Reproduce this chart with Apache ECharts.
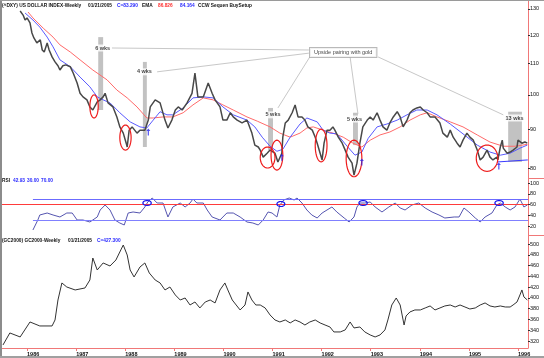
<!DOCTYPE html>
<html><head><meta charset="utf-8">
<script src="https://cdn.jsdelivr.net/npm/echarts@6/dist/echarts.min.js"></script>
<style>html,body{margin:0;padding:0;background:#fff}#c{width:544px;height:358px}</style>
</head><body><div id="c"></div><script>
const FONT = '"Liberation Sans",Arial,sans-serif';
const X_MIN = 1985.49, X_MAX = 1996.204;
const yearTicks = [1986,1987,1988,1989,1990,1991,1992,1993,1994,1995,1996];
const dxyTicks = [80,90,100,110,120,130];
const DXY_MIN = 77.6, DXY_MAX = 133.2;
const rsiTicks = [20,40,60,80,100];
const RSI_MIN = 3.3, RSI_MAX = 109.3;
const goldTicks = [320,340,360,380,400,420,440,460,480,500];
const GOLD_MIN = 307, GOLD_MAX = 516.7;

// US Dollar index weekly close (year, value)
const dxy = [[1985.86,129.2],[1985.92,127.6],[1985.96,125.7],[1986.00,126.5],[1986.06,124.6],[1986.10,120.8],[1986.14,119.0],[1986.20,117.2],[1986.27,118.3],[1986.31,114.7],[1986.35,114.0],[1986.41,117.2],[1986.45,114.7],[1986.51,112.3],[1986.57,110.6],[1986.63,109.3],[1986.67,107.9],[1986.73,109.3],[1986.79,109.6],[1986.88,109.0],[1986.94,106.9],[1987.02,103.7],[1987.08,100.5],[1987.14,99.4],[1987.22,98.5],[1987.28,96.4],[1987.34,95.5],[1987.43,97.9],[1987.49,98.5],[1987.55,99.4],[1987.59,100.5],[1987.65,97.6],[1987.75,96.4],[1987.83,93.5],[1987.89,90.7],[1987.96,89.0],[1988.02,86.3],[1988.04,85.3],[1988.08,89.8],[1988.14,90.7],[1988.24,89.0],[1988.30,89.8],[1988.40,89.8],[1988.47,92.6],[1988.51,96.4],[1988.61,98.5],[1988.71,97.6],[1988.81,92.6],[1988.87,90.4],[1988.95,92.6],[1989.02,95.5],[1989.08,96.4],[1989.16,95.5],[1989.26,97.6],[1989.36,100.5],[1989.40,104.7],[1989.42,106.9],[1989.48,99.4],[1989.59,99.4],[1989.69,103.7],[1989.77,100.5],[1989.83,98.5],[1989.93,96.4],[1989.99,92.6],[1990.07,92.6],[1990.14,94.7],[1990.20,93.5],[1990.28,92.6],[1990.38,91.8],[1990.48,92.6],[1990.58,89.0],[1990.64,85.8],[1990.71,85.3],[1990.75,84.5],[1990.81,82.7],[1990.89,83.7],[1990.95,84.5],[1991.05,83.7],[1991.11,81.5],[1991.19,83.7],[1991.21,87.9],[1991.26,91.8],[1991.32,92.6],[1991.40,94.7],[1991.46,97.0],[1991.52,93.5],[1991.60,93.5],[1991.66,92.6],[1991.72,90.7],[1991.81,89.8],[1991.87,87.9],[1991.91,86.3],[1991.97,83.7],[1992.01,82.0],[1992.05,86.3],[1992.11,89.8],[1992.17,89.8],[1992.23,90.7],[1992.27,89.8],[1992.34,87.9],[1992.42,86.3],[1992.48,84.5],[1992.54,82.7],[1992.62,81.2],[1992.66,78.3],[1992.72,81.2],[1992.78,86.3],[1992.84,90.7],[1992.93,92.6],[1992.99,93.5],[1993.05,92.6],[1993.13,94.7],[1993.19,92.6],[1993.25,90.7],[1993.33,89.8],[1993.39,91.8],[1993.46,93.5],[1993.54,95.0],[1993.60,93.5],[1993.66,90.7],[1993.74,92.6],[1993.80,94.7],[1993.86,95.5],[1993.94,96.1],[1994.01,96.4],[1994.07,95.5],[1994.15,94.7],[1994.21,93.5],[1994.31,93.5],[1994.41,91.8],[1994.47,89.0],[1994.56,87.9],[1994.62,89.8],[1994.68,87.9],[1994.76,86.3],[1994.82,85.3],[1994.88,87.1],[1994.96,89.0],[1995.02,87.9],[1995.09,87.1],[1995.17,84.5],[1995.23,82.0],[1995.29,82.7],[1995.37,84.5],[1995.43,82.7],[1995.49,82.0],[1995.57,82.7],[1995.59,82.0],[1995.64,85.3],[1995.68,87.1],[1995.70,85.0],[1995.78,83.7],[1995.84,84.0],[1995.90,84.5],[1995.98,85.3],[1996.00,87.1],[1996.04,87.6],[1996.08,86.3],[1996.14,86.6],[1996.19,86.3]];

// slow EMA (red)
const emaSlow = [[1986.02,128.8],[1986.12,126.5],[1986.33,122.6],[1986.53,119.3],[1986.67,116.5],[1986.88,114.0],[1987.08,111.3],[1987.34,107.9],[1987.63,104.7],[1987.83,101.5],[1988.04,99.1],[1988.24,96.4],[1988.44,93.2],[1988.57,93.2],[1988.77,93.5],[1988.97,93.5],[1989.18,94.7],[1989.38,97.0],[1989.59,99.1],[1989.79,98.5],[1989.99,97.0],[1990.20,95.5],[1990.48,93.5],[1990.69,92.3],[1990.95,90.7],[1991.15,89.0],[1991.36,87.9],[1991.56,89.0],[1991.70,90.4],[1991.83,90.7],[1992.03,89.8],[1992.23,89.0],[1992.44,87.9],[1992.64,86.3],[1992.82,85.3],[1992.99,87.1],[1993.19,88.5],[1993.39,89.3],[1993.60,90.7],[1993.80,92.6],[1994.01,94.1],[1994.15,94.7],[1994.35,93.5],[1994.62,92.1],[1994.88,90.7],[1995.17,88.5],[1995.43,86.6],[1995.70,85.5],[1995.94,85.5],[1996.19,86.0]];

// fast EMA (blue)
const emaFast = [[1985.96,128.4],[1986.12,125.7],[1986.26,123.0],[1986.41,119.3],[1986.53,115.8],[1986.67,111.3],[1986.88,109.0],[1987.08,105.6],[1987.28,102.5],[1987.43,99.4],[1987.55,98.5],[1987.69,97.6],[1987.89,94.7],[1988.10,92.1],[1988.30,90.7],[1988.44,90.4],[1988.57,92.6],[1988.71,95.0],[1988.85,94.1],[1988.97,94.1],[1989.18,96.1],[1989.38,99.1],[1989.59,99.4],[1989.79,99.1],[1989.99,96.4],[1990.20,94.1],[1990.48,92.6],[1990.64,90.7],[1990.79,87.9],[1990.95,85.5],[1991.09,84.2],[1991.21,84.7],[1991.36,87.9],[1991.56,91.5],[1991.70,93.2],[1991.91,92.1],[1992.03,89.8],[1992.17,89.0],[1992.31,88.8],[1992.52,85.5],[1992.68,83.2],[1992.82,84.0],[1992.95,87.6],[1993.13,90.7],[1993.33,91.5],[1993.54,92.6],[1993.74,94.1],[1993.94,95.5],[1994.15,95.5],[1994.35,94.1],[1994.62,91.5],[1994.88,88.8],[1995.17,85.8],[1995.43,84.0],[1995.64,83.2],[1995.84,83.7],[1996.04,85.0],[1996.19,85.8]];

// RSI
const rsi = [[1986.12,12.6],[1986.22,31.2],[1986.26,40.5],[1986.41,44.2],[1986.53,40.5],[1986.67,36.8],[1986.81,44.2],[1986.92,44.2],[1987.02,31.2],[1987.14,31.2],[1987.28,27.5],[1987.43,36.8],[1987.49,49.8],[1987.59,59.1],[1987.69,49.8],[1987.79,31.2],[1987.89,25.6],[1987.98,21.9],[1988.06,44.2],[1988.16,46.1],[1988.30,44.2],[1988.40,55.4],[1988.46,64.7],[1988.55,72.1],[1988.65,62.8],[1988.77,62.8],[1988.87,36.8],[1988.97,55.4],[1989.12,62.8],[1989.22,55.4],[1989.32,62.8],[1989.38,70.2],[1989.46,62.8],[1989.59,62.8],[1989.67,49.8],[1989.77,36.8],[1989.93,31.2],[1990.07,44.2],[1990.20,44.2],[1990.34,36.8],[1990.48,27.5],[1990.60,25.6],[1990.71,21.9],[1990.81,31.2],[1990.91,46.1],[1990.99,44.2],[1991.09,36.8],[1991.15,59.1],[1991.23,68.4],[1991.34,72.1],[1991.44,68.4],[1991.50,72.1],[1991.60,62.8],[1991.70,49.8],[1991.80,40.5],[1991.91,34.9],[1992.01,44.2],[1992.11,49.8],[1992.21,55.4],[1992.31,46.1],[1992.46,34.9],[1992.56,27.5],[1992.66,36.8],[1992.72,55.4],[1992.78,62.8],[1992.88,62.8],[1992.99,64.7],[1993.09,55.4],[1993.23,46.1],[1993.37,55.4],[1993.50,62.8],[1993.60,53.5],[1993.70,49.8],[1993.84,59.1],[1993.98,62.8],[1994.11,53.5],[1994.25,46.1],[1994.39,40.5],[1994.51,34.9],[1994.70,36.8],[1994.80,36.8],[1994.90,53.5],[1995.00,46.1],[1995.13,34.9],[1995.23,27.5],[1995.33,36.8],[1995.47,44.2],[1995.57,59.1],[1995.64,62.8],[1995.74,55.4],[1995.84,49.8],[1995.94,55.4],[1996.04,70.2],[1996.12,55.4],[1996.19,59.1]];
const rsiLevels = [70, 60, 30];

// Gold weekly close
const gold = [[1985.51,312.6],[1985.65,334.9],[1985.86,327.5],[1986.02,349.7],[1986.06,355.3],[1986.26,347.9],[1986.51,347.9],[1986.57,359.0],[1986.63,396.1],[1986.71,427.7],[1986.81,420.2],[1986.98,414.7],[1987.18,418.4],[1987.28,433.2],[1987.34,474.0],[1987.43,451.8],[1987.55,464.8],[1987.69,459.2],[1987.81,470.3],[1987.91,488.9],[1987.96,498.1],[1988.04,479.6],[1988.10,451.8],[1988.18,438.8],[1988.30,457.3],[1988.40,464.8],[1988.49,446.2],[1988.61,433.2],[1988.71,427.7],[1988.81,414.7],[1988.91,420.2],[1989.02,405.4],[1989.12,396.1],[1989.22,399.8],[1989.32,386.8],[1989.42,392.4],[1989.52,381.3],[1989.63,392.4],[1989.73,396.1],[1989.83,390.6],[1989.93,414.7],[1990.03,427.7],[1990.09,414.7],[1990.18,396.1],[1990.26,386.8],[1990.34,377.6],[1990.44,386.8],[1990.50,411.0],[1990.58,396.1],[1990.66,386.8],[1990.75,386.8],[1990.85,381.3],[1990.95,368.3],[1991.05,359.0],[1991.15,355.3],[1991.26,359.0],[1991.36,353.5],[1991.46,359.0],[1991.56,355.3],[1991.66,349.7],[1991.76,355.3],[1991.87,359.0],[1991.97,353.5],[1992.07,349.7],[1992.17,346.0],[1992.25,336.8],[1992.38,336.8],[1992.48,340.5],[1992.58,355.3],[1992.66,344.2],[1992.78,346.0],[1992.88,336.8],[1992.99,331.2],[1993.09,327.5],[1993.19,331.2],[1993.29,340.5],[1993.35,359.0],[1993.43,386.8],[1993.52,399.8],[1993.60,386.8],[1993.68,349.7],[1993.72,366.4],[1993.80,373.9],[1993.90,377.6],[1994.01,377.6],[1994.11,381.3],[1994.21,385.0],[1994.31,377.6],[1994.41,381.3],[1994.51,385.0],[1994.62,386.8],[1994.72,383.1],[1994.82,386.8],[1994.92,383.1],[1995.02,379.4],[1995.13,381.3],[1995.23,386.8],[1995.33,390.6],[1995.43,385.0],[1995.53,383.1],[1995.64,385.0],[1995.74,383.1],[1995.84,383.1],[1995.90,386.8],[1995.98,392.4],[1996.04,405.4],[1996.08,414.7],[1996.12,401.8],[1996.19,396.1]];

// annotations (data coordinates)
const wksBars = [[1987.45,1987.55,119.3,95.5],[1988.36,1988.44,110.6,85.3],[1990.91,1991.01,96.1,84.5],[1992.64,1992.74,94.7,85.8],[1995.80,1996.08,95.0,81.5]];
const wksLabels = [['6 wks',1987.54,115.4],['4 wks',1988.39,107.3],['5 wks',1991.01,94.1],['5 wks',1992.67,92.9],['13 wks',1995.93,93.2]];
const pairingLabel = ['Upside pairing with gold',1992.44,113.8];
const leaders = [[1991.74,114.7,1987.73,115.4],[1991.74,113.6,1988.65,107.3],[1991.76,112.3,1991.11,96.1],[1992.58,112.3,1992.74,94.4],[1993.15,112.3,1995.70,94.1]];
const redRings = [[1987.28,1987.45,100.0,93.2],[1987.89,1988.12,91.2,84.5],[1990.75,1991.05,85.3,80.0],[1990.97,1991.21,87.1,79.5],[1991.87,1992.11,90.1,81.5],[1992.50,1992.82,87.1,77.9],[1995.15,1995.59,85.8,79.2]];
const buyArrows = [[1988.47,89.3],[1991.19,82.7],[1992.82,81.5],[1995.61,80.5]];
const supportLine = [[1995.59,81.5],[1996.20,82.0]];
const rsiRings = [[1988.36,1988.53,67.4,58.2],[1991.09,1991.25,65.6,56.3],[1992.76,1992.93,67.4,58.2],[1995.53,1995.70,67.4,58.2]];

const L = Math.log;
const AXIS_RED = '#f07878';
const ln2 = a => a.map(p => [p[0], L(p[1])]);

function ringRender(color, width) {
  return function (params, api) {
    const a = api.coord([api.value(0), api.value(2)]);
    const b = api.coord([api.value(1), api.value(3)]);
    const cx = (a[0] + b[0]) / 2, cy = (a[1] + b[1]) / 2;
    const rx = Math.abs(b[0] - a[0]) / 2, ry = Math.abs(b[1] - a[1]) / 2;
    const pts = [];
    for (let i = 0; i < 48; i++) { const th = i / 48 * 2 * Math.PI; pts.push([cx + rx * Math.cos(th), cy + ry * Math.sin(th)]); }
    return { type: 'polygon', shape: { points: pts }, style: { fill: 'none', stroke: color, lineWidth: width } };
  };
}
function rectRender(params, api) {
  const a = api.coord([api.value(0), api.value(2)]);
  const b = api.coord([api.value(1), api.value(3)]);
  return { type: 'rect', shape: { x: Math.min(a[0], b[0]), y: Math.min(a[1], b[1]), width: Math.abs(b[0] - a[0]), height: Math.abs(b[1] - a[1]) }, style: { fill: '#c2c2c2' } };
}

function yAx(grid, min, max, ticks, fmt) {
  return {
    type: 'value', gridIndex: grid, position: 'right', min: min, max: max,
    axisLine: { show: true, lineStyle: { color: AXIS_RED, width: 1 } },
    axisTick: { show: true, length: 2, customValues: ticks, lineStyle: { color: '#333' } },
    axisLabel: { customValues: ticks, margin: 2, fontSize: 5.5, fontFamily: FONT, color: '#111', formatter: fmt },
    splitLine: { show: false }
  };
}
function xAx(grid, shown) {
  return {
    type: 'value', gridIndex: grid, min: X_MIN, max: X_MAX,
    axisLine: { show: shown, onZero: false, lineStyle: { color: AXIS_RED } },
    axisTick: { show: shown, length: 3, customValues: yearTicks, lineStyle: { color: AXIS_RED } },
    axisLabel: { show: shown, customValues: yearTicks, align: 'left', margin: 3, fontSize: 5.5, fontFamily: FONT, fontWeight: 'bold', color: '#111', formatter: v => String(Math.round(v)) },
    splitLine: { show: false }
  };
}

const txt = (x, y, s, c) => ({ type: 'text', x: x, y: y, scaleX: 0.8, style: { text: s, fill: c || '#111', font: 'bold 6px ' + FONT, textVerticalAlign: 'middle' }, z: 100 });

const chart = echarts.init(document.getElementById('c'), null, { renderer: 'canvas' });
chart.setOption({
  animation: false,
  backgroundColor: '#fff',
  grid: [
    { left: 2, right: 16, top: 1, height: 177 },
    { left: 2, right: 16, top: 178, height: 57 },
    { left: 2, right: 16, top: 235, height: 113 }
  ],
  xAxis: [xAx(0, false), xAx(1, false), xAx(2, true)],
  yAxis: [
    yAx(0, L(DXY_MIN), L(DXY_MAX), dxyTicks.map(L), v => String(Math.round(Math.exp(v)))),
    yAx(1, RSI_MIN, RSI_MAX, rsiTicks, v => String(Math.round(v))),
    yAx(2, GOLD_MIN, GOLD_MAX, goldTicks, v => String(Math.round(v)))
  ],
  graphic: [
    { type: 'rect', shape: { x: 0, y: 0, width: 2, height: 358 }, style: { fill: '#8c8c8c' }, z: 100 },
    { type: 'rect', shape: { x: 0, y: 0, width: 544, height: 1 }, style: { fill: '#9a9a9a' }, z: 100 },
    { type: 'rect', shape: { x: 0, y: 356, width: 544, height: 2 }, style: { fill: '#a0a0a0' }, z: 100 },
    { type: 'line', shape: { x1: 528, y1: 178.5, x2: 544, y2: 178.5 }, style: { stroke: AXIS_RED, lineWidth: 1 }, z: 100 },
    { type: 'line', shape: { x1: 528, y1: 235.5, x2: 544, y2: 235.5 }, style: { stroke: AXIS_RED, lineWidth: 1 }, z: 100 },
    txt(2, 5, '(^DXY) US DOLLAR INDEX-Weekly'),
    txt(88, 5, '01/21/2005'),
    txt(117, 5, 'C=83.290', '#2828ff'),
    txt(142, 5, 'EMA'),
    txt(158, 5, '86.826', '#ff3030'),
    txt(180, 5, '84.164', '#2828ff'),
    txt(198, 5, 'CCW Sequen BuySetup'),
    txt(2, 180, 'RSI'),
    txt(13, 180, '42.93', '#2828ff'),
    txt(27, 180, '30.00', '#2828ff'),
    txt(41, 180, '70.00', '#2828ff'),
    txt(2, 240, '(GC2000) GC2000-Weekly'),
    txt(68, 240, '01/21/2005'),
    txt(97, 240, 'C=427.300', '#2828ff')
  ],
  series: [
    { type: 'custom', xAxisIndex: 0, yAxisIndex: 0, renderItem: rectRender, encode: { x: [0, 1], y: [2, 3] },
      data: wksBars.map(b => [b[0], b[1], L(b[2]), L(b[3])]), z: 1, silent: true },
    { type: 'line', xAxisIndex: 0, yAxisIndex: 0, data: ln2(emaSlow), symbol: 'none', lineStyle: { color: '#ff6a6a', width: 1 }, z: 2 },
    { type: 'line', xAxisIndex: 0, yAxisIndex: 0, data: ln2(emaFast), symbol: 'none', lineStyle: { color: '#5a5aff', width: 1 }, z: 2 },
    { type: 'line', xAxisIndex: 0, yAxisIndex: 0, data: ln2(dxy), symbol: 'none', lineStyle: { color: '#484848', width: 1.5 }, z: 3,
      markLine: { silent: true, symbol: 'none', label: { show: false }, lineStyle: { color: '#c8c8c8', width: 1, type: 'solid' },
        data: leaders.map(l => [{ coord: [l[0], L(l[1])] }, { coord: [l[2], L(l[3])] }]) } },
    { type: 'line', xAxisIndex: 0, yAxisIndex: 0, data: ln2(supportLine), symbol: 'none', lineStyle: { color: '#3a3aff', width: 1 }, z: 3 },
    { type: 'custom', xAxisIndex: 0, yAxisIndex: 0, renderItem: ringRender('#ee1c1c', 1.2), encode: { x: [0, 1], y: [2, 3] },
      data: redRings.map(b => [b[0], b[1], L(b[2]), L(b[3])]), z: 5, silent: true },
    { type: 'scatter', xAxisIndex: 0, yAxisIndex: 0, symbol: 'path://M2,0 L4,3 L2.6,3 L2.6,8 L1.4,8 L1.4,3 L0,3 Z', symbolSize: [4, 7],
      itemStyle: { color: '#2020ee' }, data: ln2(buyArrows), z: 6 },
    { type: 'scatter', xAxisIndex: 0, yAxisIndex: 0, symbolSize: 0, z: 8,
      label: { show: true, position: 'inside', formatter: '{b}', fontSize: 5.5, fontWeight: 'bold', fontFamily: FONT, color: '#111', backgroundColor: '#fff', padding: [1, 1, 0, 1] },
      data: wksLabels.map(w => ({ name: w[0], value: [w[1], L(w[2])] })).concat([{
        name: pairingLabel[0], value: [pairingLabel[1], L(pairingLabel[2])],
        label: { borderColor: '#a8a8a8', borderWidth: 1, padding: [2, 4, 1, 4], fontWeight: 'normal' } }]) },
    { type: 'line', xAxisIndex: 1, yAxisIndex: 1, data: rsi, symbol: 'none', lineStyle: { color: '#5555b0', width: 1 }, z: 3,
      markLine: { silent: true, symbol: 'none', label: { show: false },
        data: [
          [{ coord: [1986.12, rsiLevels[0]], lineStyle: { color: '#6b6bff', width: 1, type: 'solid' } }, { coord: [X_MAX, rsiLevels[0]] }],
          [{ coord: [X_MIN, rsiLevels[1]], lineStyle: { color: '#ff3b3b', width: 1, type: 'solid' } }, { coord: [X_MAX, rsiLevels[1]] }],
          [{ coord: [1986.12, rsiLevels[2]], lineStyle: { color: '#8080ff', width: 1, type: 'solid' } }, { coord: [X_MAX, rsiLevels[2]] }]
        ] } },
    { type: 'custom', xAxisIndex: 1, yAxisIndex: 1, renderItem: ringRender('#1a1aee', 1.2), encode: { x: [0, 1], y: [2, 3] },
      data: rsiRings, z: 5, silent: true },
    { type: 'line', xAxisIndex: 2, yAxisIndex: 2, data: gold, symbol: 'none', lineStyle: { color: '#333', width: 1 }, z: 3 }
  ]
});
</script></body></html>
